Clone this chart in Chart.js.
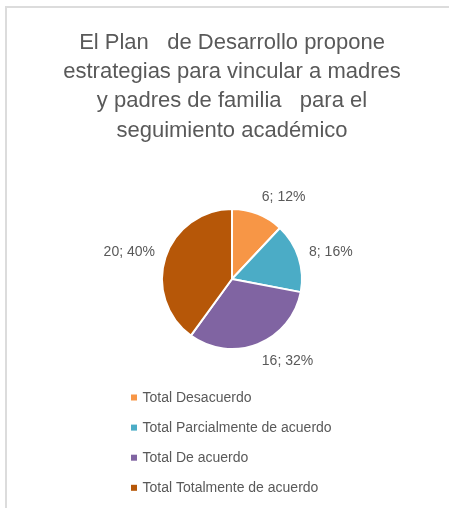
<!DOCTYPE html>
<html>
<head>
<meta charset="utf-8">
<script src="https://cdn.jsdelivr.net/npm/chart.js@4/dist/chart.umd.min.js"></script>
<style>
  html, body { margin: 0; padding: 0; overflow: hidden; background: #fff; width: 449px; height: 508px; }
  #frame { position: absolute; left: 5px; top: 6px; width: 470px; height: 540px; border: 2px solid #dcdcdc; box-sizing: border-box; }
  #wrap { position: absolute; left: 0; top: 0; width: 449px; height: 508px; }
</style>
</head>
<body>
<div id="frame"></div>
<div id="wrap"><canvas id="c" width="449" height="508"></canvas></div>
<script>
const titleLines = [
  "El Plan   de Desarrollo propone",
  "estrategias para vincular a madres",
  "y padres de familia   para el",
  "seguimiento académico"
];
const categories = [
  "Total Desacuerdo",
  "Total Parcialmente de acuerdo",
  "Total De acuerdo",
  "Total Totalmente de acuerdo"
];
const values = [6, 8, 16, 20];
const colors = ["#F79646", "#4BACC6", "#8064A2", "#B65708"];

const FONT = "'Liberation Sans', Arial, sans-serif";
const TEXT_COLOR = "#595959";

const decorPlugin = {
  id: 'decor',
  afterDraw(chart) {
    const ctx = chart.ctx;
    ctx.save();
    // title
    ctx.fillStyle = TEXT_COLOR;
    ctx.font = "22px " + FONT;
    ctx.textAlign = "center";
    ctx.textBaseline = "alphabetic";
    titleLines.forEach((t, i) => ctx.fillText(t, 232, 49 + i * 29.2));

    // data labels
    const meta = chart.getDatasetMeta(0);
    const total = values.reduce((a, b) => a + b, 0);
    ctx.font = "14px " + FONT;
    ctx.textBaseline = "middle";
    meta.data.forEach((arc, i) => {
      const p = arc.getProps(['x', 'y', 'startAngle', 'endAngle', 'outerRadius'], true);
      const mid = (p.startAngle + p.endAngle) / 2;
      const r = p.outerRadius + 11;
      const ax = p.x + Math.cos(mid) * r;
      const ay = p.y + Math.sin(mid) * r;
      ctx.textAlign = Math.cos(mid) >= 0 ? "left" : "right";
      const txt = values[i] + "; " + Math.round(values[i] / total * 100) + "%";
      ctx.fillText(txt, ax, ay + Math.sin(mid) * 7);
    });

    // legend
    ctx.textAlign = "left";
    ctx.textBaseline = "middle";
    ctx.font = "14px " + FONT;
    categories.forEach((c, i) => {
      const y = 397.5 + i * 30.1;
      ctx.fillStyle = colors[i];
      ctx.fillRect(131, y - 3, 6, 6);
      ctx.fillStyle = TEXT_COLOR;
      ctx.fillText(c, 142.5, y + 0.5);
    });
    ctx.restore();
  }
};

new Chart(document.getElementById('c'), {
  type: 'pie',
  data: {
    labels: categories,
    datasets: [{
      data: values,
      backgroundColor: colors,
      borderColor: "#ffffff",
      borderWidth: 2
    }]
  },
  options: {
    responsive: false,
    animation: false,
    events: [],
    layout: { padding: { left: 161, right: 146, top: 208, bottom: 158 } },
    plugins: {
      legend: { display: false },
      title: { display: false },
      tooltip: { enabled: false }
    }
  },
  plugins: [decorPlugin]
});
</script>
</body>
</html>
